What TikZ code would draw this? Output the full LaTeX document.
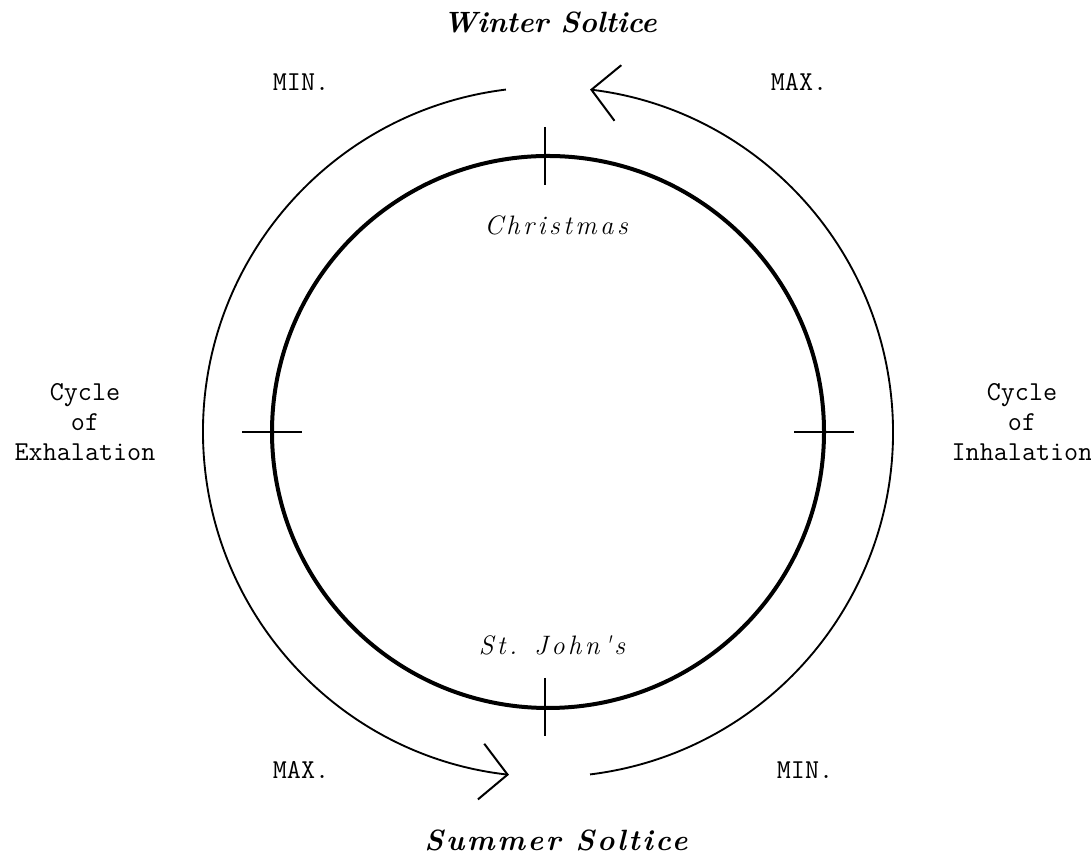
\documentclass[tikz,border=0pt]{standalone}
\usepackage{fontspec}
\newfontfamily\spacedrm[LetterSpace=13]{Latin Modern Roman}
\newfontfamily\spacedbf[LetterSpace=9]{Latin Modern Roman}
\usetikzlibrary{arrows.meta}
\tikzset{
  inner/.style={line width=3pt},
  outer/.style={line width=1.4pt},
  tick/.style={line width=1.7pt},
  barb/.style={-{Straight Barb[length=20pt,width=42pt,line width=1.5pt]}},
  monolabel/.style={font=\ttfamily\fontsize{20.5}{22.5}\selectfont, align=center, inner sep=0pt},
  bigscript/.style={font=\fontsize{22}{24}\selectfont\bfseries\itshape, inner sep=0pt},
  bigspaced/.style={font=\spacedbf\fontsize{22}{24}\selectfont\bfseries\itshape, inner sep=0pt},
  smallscript/.style={font=\spacedrm\fontsize{20}{22}\selectfont\itshape, inner sep=0pt}
}
\begin{document}
\begin{tikzpicture}[x=0.75pt,y=0.75pt]
\useasboundingbox (0,0) rectangle (1091,859);
\coordinate (c) at (548,427);
% inner circle
\draw[inner] (c) circle[radius=276];
% ticks
\coordinate (tt) at (545,703);
\coordinate (tb) at (545,152);
\coordinate (tl) at (272,427);
\coordinate (tr) at (824,427);
\draw[tick] (tt) ++(0,29) -- ++(0,-58);
\draw[tick] (tb) ++(0,29) -- ++(0,-58);
\draw[tick] (tl) ++(-30,0) -- ++(60,0);
\draw[tick] (tr) ++(-30,0) -- ++(60,0);
% outer arcs
\draw[outer,barb] ([shift={(97:345)}]c) arc[start angle=97, end angle=263.5, radius=345];
\draw[outer,barb] ([shift={(277:345)}]c) arc[start angle=277, end angle=443, radius=345];
% labels
\node[bigscript] (winter) at (550,837) {Winter Soltice};
\node[bigspaced] (summer) at (556,19) {Summer Soltice};
\node[smallscript] (xmas) at (556,634) {Christmas};
\node[smallscript] (john) at (552,214) {St. John's};
\node[monolabel] (min1) at (301,777) {MIN.};
\node[monolabel] (max1) at (799,777) {MAX.};
\node[monolabel] (max2) at (301,89) {MAX.};
\node[monolabel] (min2) at (805,89) {MIN.};
\node[monolabel] (exh) at (85,437) {Cycle\\of\\Exhalation};
\node[monolabel] (inh) at (1022,437) {Cycle\\of\\Inhalation};
\end{tikzpicture}
\end{document}
